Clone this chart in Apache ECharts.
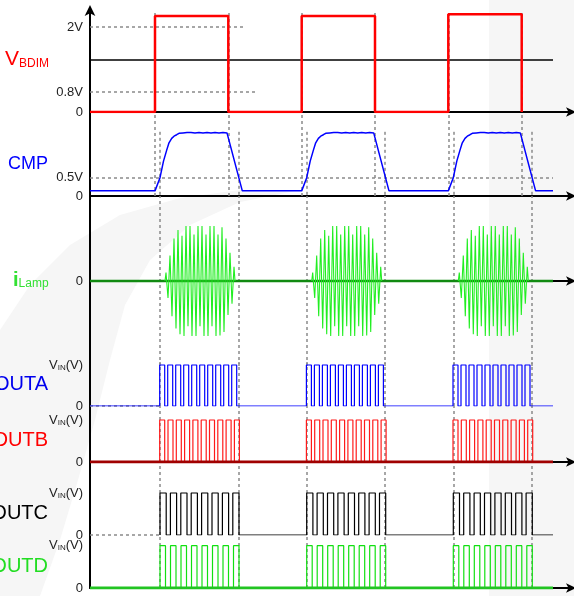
<!DOCTYPE html>
<html><head><meta charset="utf-8">
<script src="https://cdn.jsdelivr.net/npm/echarts@6/dist/echarts.min.js"></script>
<style>html,body{margin:0;padding:0;background:#fff}#c{width:574px;height:596px}</style>
</head><body><div id="c"></div>
<script>
// ---- time axis (arbitrary units, 0 = start of trace) ----
const timeMax = 482;
const traceEnd = 463;
const periodStarts = [65, 211.7, 358.3];   // V_BDIM rising edges
const periodEnds = [138.3, 285, 431.7];    // V_BDIM falling edges

// ---- V_BDIM ----
const vbdimHigh = [2.26, 2.26, 2.3];
const vbdimTicks = [0, 0.47, 2];
const vbdimTickLabels = ['0', '0.8V', '2V'];
const vbdimMidLevel = 1.22;
const vbdim2VLevel = 2, vbdim2VEnd = 155;
const vbdim08Level = 0.47, vbdim08End = 168;

// ---- CMP (relative to each rising edge) ----
const cmpBase = 0.14;
const cmpShape = [[0,0.14],[5,0.5],[8.5,0.95],[11.7,1.25],[14,1.45],[16.7,1.57],[19,1.63],[21.7,1.67],[24,1.71],[26,1.68],[28,1.72],[30,1.68],[32,1.73],[34,1.69],[36,1.73],[38,1.68],[40,1.72],[42,1.69],[44,1.73],[46,1.68],[48,1.72],[50,1.69],[52,1.73],[54,1.68],[56,1.72],[58,1.69],[60,1.73],[62,1.68],[64,1.72],[66,1.69],[68,1.73],[70,1.68],[72,1.72],[73.3,1.7],[87.3,0.14]];
const cmpTicks = [0, 0.5];
const cmpTickLabels = ['0', '0.5V'];
const cmpThreshold = 0.5;
const cmpDashTop = 1.75;

// ---- i_Lamp (relative to each rising edge) ----
const ilampShape = [[10,0],[11,0.15],[13,-0.3],[15,0.45],[17,-0.62],[19,0.75],[21,-0.84],[23,0.9],[25,-0.94],[27,0.8],[29,-0.97],[31,0.97],[33,-0.8],[35,0.97],[37,-0.97],[39,0.82],[41,-0.97],[43,0.97],[45,-0.8],[47,0.97],[49,-0.97],[51,0.82],[53,-0.97],[55,0.97],[57,-0.8],[59,0.97],[61,-0.97],[63,0.82],[65,-0.96],[67,0.95],[69,-0.9],[71,0.75],[73,-0.6],[75,0.5],[77,-0.4],[79,0.25],[80,0]];

// ---- gate outputs: high intervals relative to each rising edge ----
const outaPulses = [[4.7,9.7],[12.7,17.7],[20.7,25.7],[28.7,33.7],[36.7,41.7],[44.7,49.7],[52.7,57.7],[60.7,65.7],[68.7,73.7],[76.7,81.7]];
const outbPulses = [[4.7,9.7],[13,18],[21.3,26.3],[29.6,34.6],[37.9,42.9],[46.2,51.2],[54.5,59.5],[62.8,67.8],[71.1,76.1],[79.4,84.4]];
const outcPulses = [[5,11.2],[15.4,21.6],[25.8,32],[36.2,42.4],[46.6,52.8],[57,63.2],[67.4,73.6],[77.8,84]];
const outdPulses = [[5,10.5],[15.5,21],[26,31.5],[36.5,42],[47,52.5],[57.5,63],[68,73.5],[78.5,84]];
const outTicks = [0, 1];
const outTickLabels = ['0', 'VIN'];
const outLeadDashEnd = 70;

// ---- guide lines (relative to each rising edge) ----
const guideUpper = [0, 73.3];   // dashed through V_BDIM and CMP
const guideLower = [5, 83.5];   // dashed through CMP threshold and outputs

// ---------------------------------------------------------------
const FONT = 'Liberation Sans, Arial, sans-serif';
const DASH = {type:[3,3], color:'#8a8a8a', width:1.5};

const grids = [
  {top:10,  height:102, min:0,    max:2.4},    // V_BDIM
  {top:112, height:84,  min:0,    max:2.29},   // CMP
  {top:196, height:170, min:-1.5, max:1.5},    // iLamp
  {top:362, height:44,  min:0,    max:1.073},  // OUTA
  {top:406, height:56,  min:0,    max:1.333},  // OUTB
  {top:462, height:73,  min:0,    max:1.738},  // OUTC
  {top:535, height:53,  min:0,    max:1.253}   // OUTD
];
const xLine = [true, true, true, false, true, false, true];
const yTicks = [vbdimTicks, cmpTicks, [0], outTicks, outTicks, outTicks, outTicks];
const yLabels = [vbdimTickLabels, cmpTickLabels, ['0'], outTickLabels, outTickLabels, outTickLabels, outTickLabels];

const richLbl = {
  v:{fontSize:13, fontFamily:FONT, color:'#222', verticalAlign:'bottom'},
  s:{fontSize:8, fontFamily:FONT, color:'#222', verticalAlign:'bottom'}
};

const gridOpt = grids.map(g => ({left:90, right:2, top:g.top, height:g.height}));
const xAxes = grids.map((g,i) => ({
  type:'value', gridIndex:i, min:0, max:timeMax,
  axisLine:{show:xLine[i], onZero:i===2, lineStyle:{color:'#000', width:2},
    symbol:['none','arrow'], symbolSize:[7,10], symbolOffset:[0,4]},
  axisTick:{show:false}, axisLabel:{show:false}, splitLine:{show:false}
}));
const yAxes = grids.map((g,i) => ({
  type:'value', gridIndex:i, min:g.min, max:g.max,
  axisLine:{show:true, onZero:false, lineStyle:{color:'#000', width:2},
    symbol: i===0 ? ['none','arrow'] : ['none','none'], symbolSize:[8,11], symbolOffset:[0,5]},
  axisTick:{show:false}, splitLine:{show:false},
  axisLabel:{show:true, margin:7, customValues:yTicks[i], color:'#222', fontSize:13, fontFamily:FONT,
    formatter: function(v){
      const k = yTicks[i].findIndex(t => Math.abs(t - v) < 1e-6);
      const s = k < 0 ? '' : yLabels[i][k];
      return s === 'VIN' ? '{v|V}{s|IN}{v|(V)}' : s;
    }, rich:richLbl}
}));

function line(gi, data, color, width, z){
  return {type:'line', xAxisIndex:gi, yAxisIndex:gi, data, showSymbol:false, symbol:'none',
    lineStyle:{color, width}, z: z||5, animation:false, silent:true};
}
function guides(gi, items){
  return {type:'line', xAxisIndex:gi, yAxisIndex:gi, data:[], z:3, silent:true,
    markLine:{symbol:['none','none'], silent:true, animation:false, label:{show:false}, lineStyle:DASH, data:items}};
}
function pulseTrain(pulses, fromZero){
  const d = fromZero ? [[0,0]] : [];
  periodStarts.forEach(r => pulses.forEach(([a,b]) => { d.push([r+a,0],[r+a,1],[r+b,1],[r+b,0]); }));
  d.push([traceEnd,0]);
  return d;
}

// V_BDIM
const vb = [[0,0]];
periodStarts.forEach((r,i) => vb.push([r,0],[r,vbdimHigh[i]],[periodEnds[i],vbdimHigh[i]],[periodEnds[i],0]));
// CMP
const cmp = [[0,cmpBase]];
periodStarts.forEach(r => cmpShape.forEach(p => cmp.push([r+p[0], p[1]])));
cmp.push([traceEnd, cmpBase]);

const series = [];
series.push(line(0, vb, '#ff0000', 2.5, 6));
series.push(line(1, cmp, '#0000ff', 1.5, 6));
series.push(line(2, [[0,0],[traceEnd,0]], '#118a11', 2.5, 5));
periodStarts.forEach(r => series.push(line(2, ilampShape.map(p => [r+p[0], p[1]]), '#22ee22', 1.1, 6)));
series.push(line(3, pulseTrain(outaPulses, true), '#0000ff', 1.2, 5));
series.push(line(4, pulseTrain(outbPulses, false), '#ff1a1a', 1.2, 5));
series.push(line(4, [[0,0],[traceEnd,0]], '#a00000', 3, 6));
series.push(line(5, pulseTrain(outcPulses, false), '#000000', 1.2, 5));
series.push(line(6, pulseTrain(outdPulses, false), '#11e011', 1.2, 5));
series.push(line(6, [[0,0],[traceEnd,0]], '#22c422', 3, 6));

// guide lines
const upper = [], lower = [];
periodStarts.forEach(r => { guideUpper.forEach(o => upper.push({xAxis:r+o})); guideLower.forEach(o => lower.push({xAxis:r+o})); });
series.push(guides(0, upper.concat([
  [{coord:[0,vbdim2VLevel]},{coord:[vbdim2VEnd,vbdim2VLevel]}],
  [{coord:[0,vbdim08Level]},{coord:[vbdim08End,vbdim08Level]}],
  [{coord:[0,vbdimMidLevel], lineStyle:{type:'solid', color:'#000', width:1.5}},{coord:[traceEnd,vbdimMidLevel]}]
])));
series.push(guides(1, upper.concat(
  lower.map(o => [{coord:[o.xAxis,cmpDashTop]},{coord:[o.xAxis,0]}]),
  [[{coord:[0,cmpThreshold]},{coord:[traceEnd,cmpThreshold]}]]
)));
[2,3,4,5,6].forEach(gi => series.push(guides(gi, lower.slice())));
const leadA = guides(3, [[{coord:[0,0]},{coord:[outLeadDashEnd,0]}]]); leadA.z = 7; series.push(leadA);
series.push(guides(5, [[{coord:[0,0]},{coord:[outLeadDashEnd,0]}]]));

const txt = (x, y, text, opts) => ({type:'text', x, y, z:10, silent:true,
  style:Object.assign({text, fontFamily:FONT, align:'right', verticalAlign:'middle', textAlign:'right', textVerticalAlign:'middle'}, opts)});

const graphic = [
  // faint background watermark
  {type:'rect', z:-10, silent:true, shape:{x:489, y:0, width:85, height:596}, style:{fill:'#f6f6f6'}},
  {type:'polygon', z:-10, silent:true, shape:{points:[[0,330],[30,285],[70,245],[120,215],[180,198],[240,190],[300,190],[240,202],[190,225],[150,260],[125,305],[110,360],[95,420],[78,480],[60,540],[40,596],[0,596]]}, style:{fill:'#f6f6f6'}},
  txt(5, 70, '{a|V}{b|BDIM}', {align:'left', textAlign:'left', verticalAlign:'bottom', textVerticalAlign:'bottom',
     rich:{a:{fontSize:21, fontFamily:FONT, fill:'#ff0000', verticalAlign:'bottom'}, b:{fontSize:12, fontFamily:FONT, fill:'#ff0000', verticalAlign:'bottom'}}}),
  txt(48, 164, 'CMP', {fontSize:18, fill:'#0000ff'}),
  txt(13, 290, '{a|i}{b|Lamp}', {align:'left', textAlign:'left', verticalAlign:'bottom', textVerticalAlign:'bottom',
     rich:{a:{fontSize:20, fontWeight:'bold', fontFamily:FONT, fill:'#33e033', verticalAlign:'bottom'}, b:{fontSize:12, fontFamily:FONT, fill:'#33e033', verticalAlign:'bottom'}}}),
  txt(48, 384.5, 'OUTA', {fontSize:20, fill:'#0000ee'}),
  txt(48, 440, 'OUTB', {fontSize:20, fill:'#ff0000'}),
  txt(48, 513.5, 'OUTC', {fontSize:20, fill:'#000000'}),
  txt(48, 566, 'OUTD', {fontSize:20, fill:'#22dd22'})
];

const chart = echarts.init(document.getElementById('c'), null, {renderer:'canvas'});
chart.setOption({animation:false, backgroundColor:'#ffffff', grid:gridOpt, xAxis:xAxes, yAxis:yAxes, series, graphic});
</script></body></html>
